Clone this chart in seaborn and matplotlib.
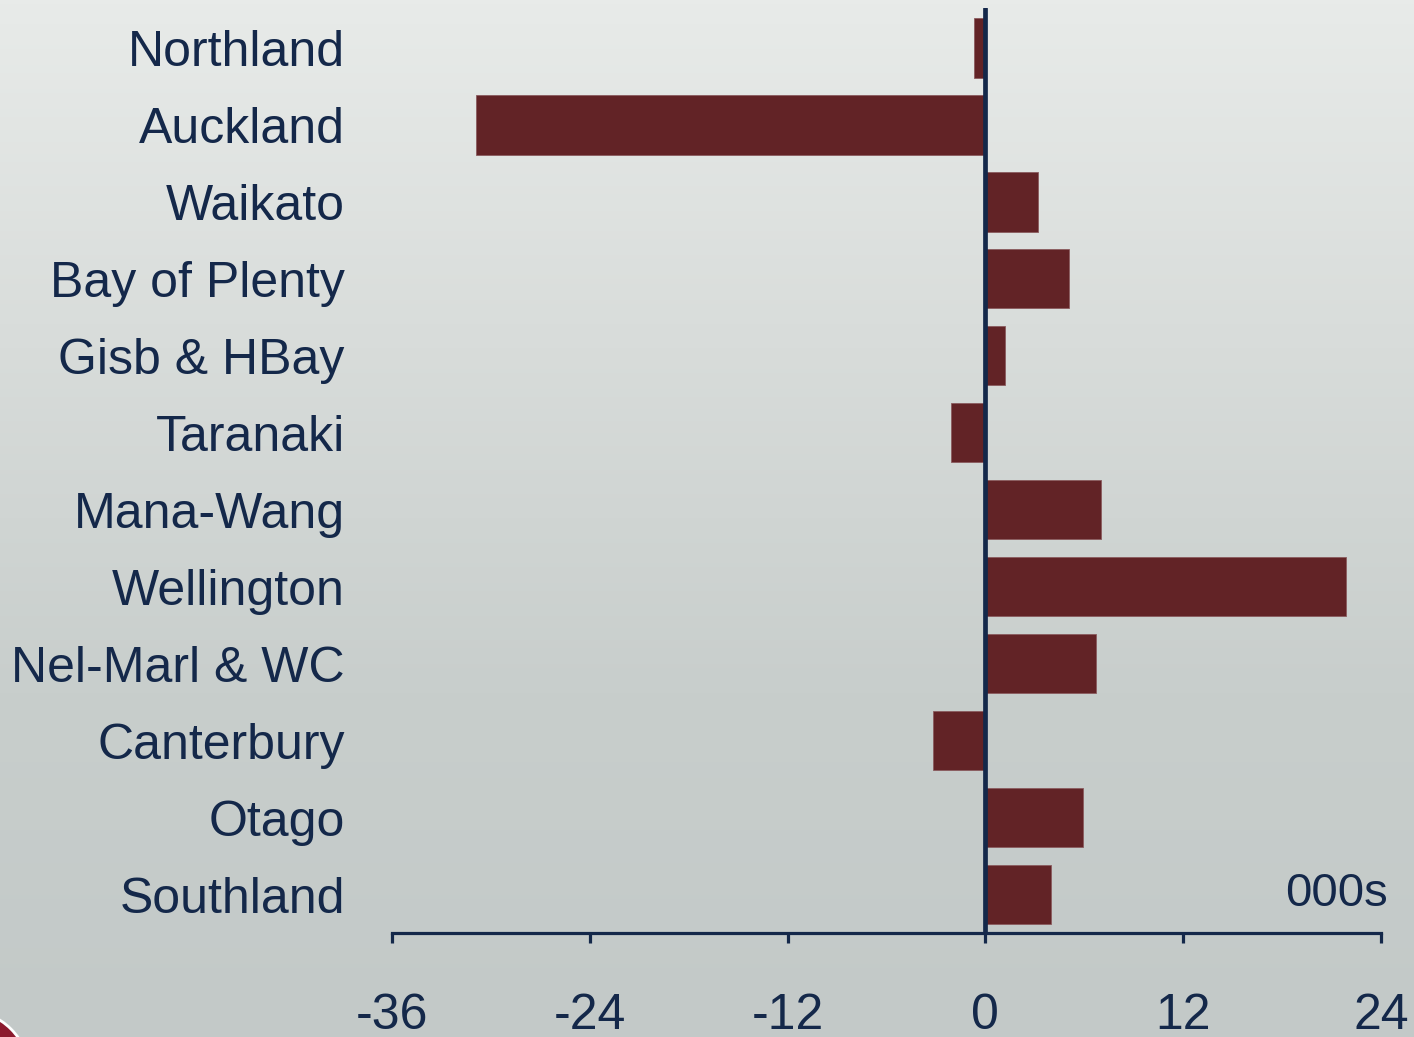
import numpy as np
import pandas as pd
import matplotlib
matplotlib.use("Agg")
import matplotlib.pyplot as plt
from matplotlib.patches import Circle
import seaborn as sns

# regional change, thousands
regions = ["Northland", "Auckland", "Waikato", "Bay of Plenty", "Gisb & HBay",
           "Taranaki", "Mana-Wang", "Wellington", "Nel-Marl & WC",
           "Canterbury", "Otago", "Southland"]
change = [-0.7, -30.9, 3.2, 5.1, 1.2, -2.1, 7.0, 21.9, 6.7, -3.2, 5.9, 4.0]
xticks = [-36, -24, -12, 0, 12, 24]

NAVY = "#14284a"
BAR = "#622326"

sns.set_theme(style="white")
plt.rcParams["font.family"] = ["Liberation Sans", "DejaVu Sans"]

df = pd.DataFrame({"region": regions, "change": change})

fig = plt.figure(figsize=(14.14, 10.37), dpi=100)

# grey gradient backdrop
bg = fig.add_axes([0, 0, 1, 1], zorder=-10)
grad = np.linspace(0, 1, 256).reshape(-1, 1)
cmap = matplotlib.colors.LinearSegmentedColormap.from_list(
    "bg", ["#e8ebe9", "#d8dcda", "#c8cecc", "#c3c9c8"])
bg.imshow(grad, aspect="auto", cmap=cmap, extent=[0, 1414, 1037, 0])
bg.add_patch(Circle((-35, 1075), 65, facecolor="#8c1a2e", edgecolor="white", lw=2))
bg.set_xlim(0, 1414)
bg.set_ylim(1037, 0)
bg.axis("off")

ax = fig.add_axes([0.2772, 0.1003, 0.6995, 0.892])
ax.patch.set_alpha(0)
sns.barplot(data=df, x="change", y="region", orient="h", color=BAR,
            saturation=1, width=0.77, edgecolor="#8a5b5e", linewidth=0.6, ax=ax)

ax.axvline(0, color=NAVY, lw=3.4, zorder=5)
ax.set_xlim(-35.9, 24)
ax.set_ylim(11.5, -0.52)
ax.set_xticks(xticks)
ax.set_xticklabels([str(t) for t in xticks])
ax.set_xlabel("")
ax.set_ylabel("")

for side in ["left", "right", "top"]:
    ax.spines[side].set_visible(False)
ax.spines["bottom"].set_color(NAVY)
ax.spines["bottom"].set_linewidth(2.3)

ax.tick_params(axis="x", direction="out", length=7.5, width=2.3, color=NAVY,
               labelsize=36, labelcolor=NAVY, pad=36, bottom=True)
ax.tick_params(axis="y", length=0, labelsize=36, labelcolor=NAVY, pad=34)

fig.text(1388 / 1414, 1 - 906 / 1037, "000s", ha="right", va="baseline",
         fontsize=34, color=NAVY)

fig.savefig("out.png", dpi=100)
